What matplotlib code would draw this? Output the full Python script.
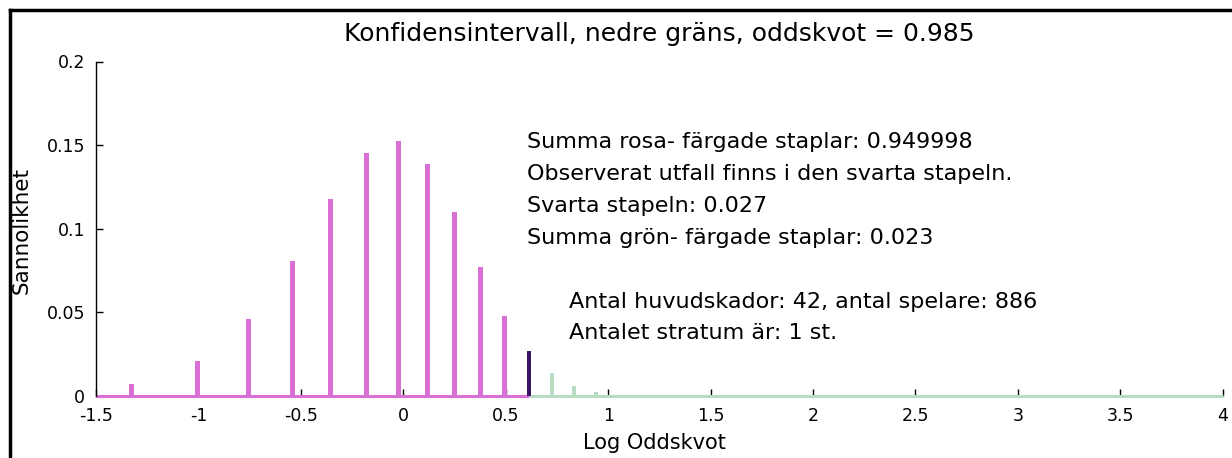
import matplotlib
matplotlib.use("Agg")
import matplotlib.pyplot as plt
from matplotlib.lines import Line2D

# ---- data ----
pink_x = [-1.325, -1.003, -0.756, -0.539, -0.354, -0.180, -0.023, 0.1165, 0.249, 0.379, 0.495]
pink_y = [0.007, 0.021, 0.046, 0.081, 0.118, 0.145, 0.1525, 0.1385, 0.110, 0.077, 0.048]
black_x = [0.613]
black_y = [0.0272]
green_x = [0.727, 0.832, 0.942, 1.039]
green_y = [0.0138, 0.0062, 0.0025, 0.0006]

xticks = [-1.5, -1, -0.5, 0, 0.5, 1, 1.5, 2, 2.5, 3, 3.5, 4]
xticklabels = ["-1.5", "-1", "-0.5", "0", "0.5", "1", "1.5", "2", "2.5", "3", "3.5", "4"]
yticks = [0, 0.05, 0.1, 0.15, 0.2]
yticklabels = ["0", "0.05", "0.1", "0.15", "0.2"]

title = "Konfidensintervall, nedre gräns, oddskvot = 0.985"
xlabel = "Log Oddskvot"
ylabel = "Sannolikhet"
info1 = ["Summa rosa- färgade staplar: 0.949998",
         "Observerat utfall finns i den svarta stapeln.",
         "Svarta stapeln: 0.027",
         "Summa grön- färgade staplar: 0.023"]
info2 = ["Antal huvudskador: 42, antal spelare: 886",
         "Antalet stratum är: 1 st."]

PINK = "#da70d6"
DARK = "#3b1466"
GREEN = "#b7dcc2"

plt.rcParams['font.family'] = ['DejaVu Sans']

W, H = 1232, 458
fig = plt.figure(figsize=(W / 100, H / 100), dpi=100)
fig.patch.set_facecolor("white")
ax = fig.add_axes([96 / W, (H - 396) / H, (1222.7 - 96) / W, (396 - 61.5) / H])

xmin, xmax = -1.5, 4
# baselines
ax.plot([xmin, black_x[0]], [0, 0], color=PINK, lw=2.2, solid_capstyle='butt', zorder=2, clip_on=False)
ax.plot([black_x[0], xmax], [0, 0], color=GREEN, lw=2.2, solid_capstyle='butt', zorder=2, clip_on=False)

ax.bar(pink_x, pink_y, width=0.024, color=PINK, edgecolor='none', zorder=3)
ax.bar(black_x, black_y, width=0.02, color=DARK, edgecolor='none', zorder=3)
ax.bar(green_x, green_y, width=0.02, color=GREEN, edgecolor='none', zorder=3)

ax.set_xlim(xmin, xmax)
ax.set_ylim(0, 0.2)
ax.set_xticks(xticks)
ax.set_xticklabels(xticklabels)
ax.set_yticks(yticks)
ax.set_yticklabels(yticklabels)
for s in ['top', 'right', 'bottom']:
    ax.spines[s].set_visible(False)
ax.spines['left'].set_linewidth(1.0)
ax.tick_params(direction='in', length=5, width=1, labelsize=12.5)
ax.tick_params(axis='y', pad=8)
ax.tick_params(axis='x', pad=8)

ax.set_title(title, fontsize=18, pad=0, y=1 + (61.5 - 34.5) / 334.5, va='center')
ax.set_xlabel(xlabel, fontsize=15)
ax.xaxis.set_label_coords(0.4957, (396 - 443) / 334.5)
ax.xaxis.label.set_va('center')
ax.set_ylabel(ylabel, fontsize=15.5)
ax.yaxis.set_label_coords((22 - 96) / 1126.7, (396 - 230) / 334.5)
ax.yaxis.label.set_va('center')

for i, t in enumerate(info1):
    fig.text(527 / W, 1 - (142 + 32 * i) / H, t, fontsize=16, va='center', ha='left')
for i, t in enumerate(info2):
    fig.text(569 / W, 1 - (302 + 31 * i) / H, t, fontsize=16, va='center', ha='left')

# outer frame (top and left edges of the window)
fig.add_artist(Line2D([10 / W, 10 / W], [0, 1 - 10 / H], color='black', lw=2.5, transform=fig.transFigure))
fig.add_artist(Line2D([10 / W, 1], [1 - 10 / H, 1 - 10 / H], color='black', lw=2.5, transform=fig.transFigure))

fig.savefig("out.png", dpi=100, facecolor="white")
